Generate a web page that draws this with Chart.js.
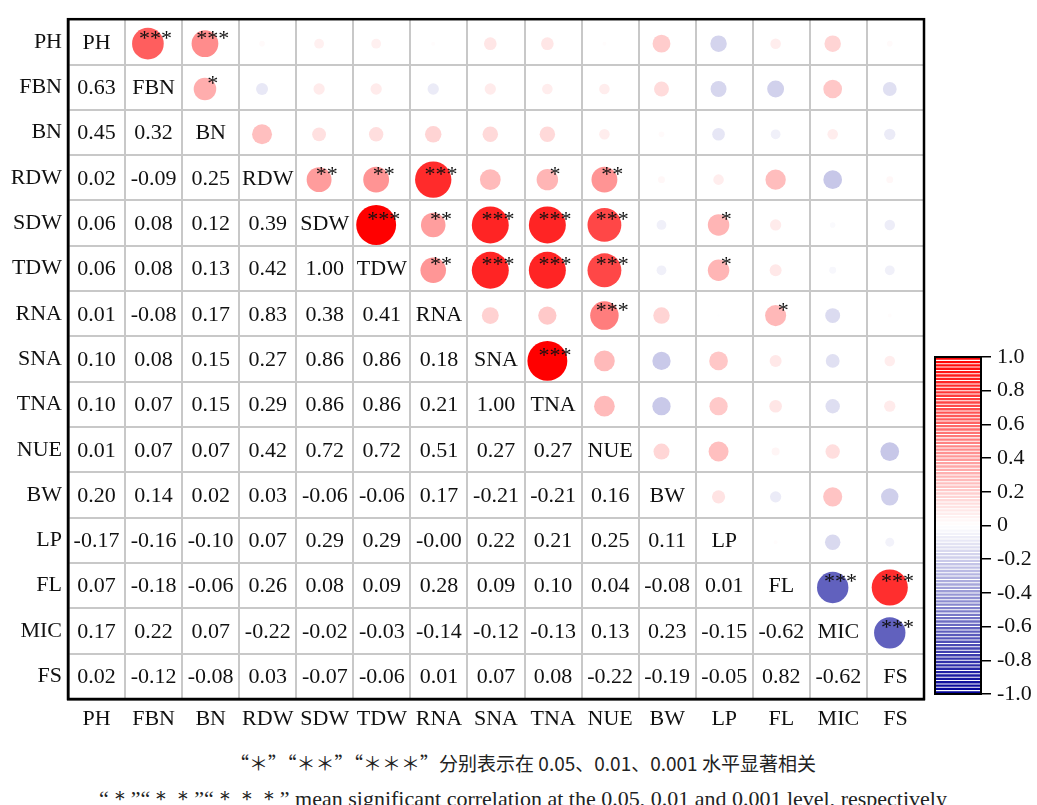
<!DOCTYPE html>
<html>
<head>
<meta charset="utf-8">
<script src="https://cdn.jsdelivr.net/npm/chart.js@4.4.1/dist/chart.umd.min.js"></script>
<style>
  body { margin: 0; background: #fff; width: 1037px; height: 805px; overflow: hidden; position: relative; }
  #main { position: absolute; left: 0; top: 0; }
  #bar { position: absolute; left: 925px; top: 335px; }
  .note { position: absolute; left: 0; width: 1046px; text-align: center; color: #222; white-space: nowrap; }
</style>
</head>
<body>
<canvas id="main" width="930" height="740"></canvas>
<canvas id="bar" width="112" height="380"></canvas>
<div class="note" style="top:749px; font: 19px 'Noto Sans CJK SC';">“＊”“＊＊”“＊＊＊”分别表示在 0.05、0.01、0.001 水平显著相关</div>
<div class="note" style="top:784px; font: 22px 'Liberation Serif';">“＊”“＊＊”“＊＊＊” mean significant correlation at the 0.05, 0.01 and 0.001 level, respectively</div>
<script>
const names = ['PH', 'FBN', 'BN', 'RDW', 'SDW', 'TDW', 'RNA', 'SNA', 'TNA', 'NUE', 'BW', 'LP', 'FL', 'MIC', 'FS'];

// lower triangle, one row per trait (against the traits before it)
const rFBN = [0.63];
const rBN = [0.45, 0.32];
const rRDW = [0.02, -0.09, 0.25];
const rSDW = [0.06, 0.08, 0.12, 0.39];
const rTDW = [0.06, 0.08, 0.13, 0.42, 1.00];
const rRNA = [0.01, -0.08, 0.17, 0.83, 0.38, 0.41];
const rSNA = [0.10, 0.08, 0.15, 0.27, 0.86, 0.86, 0.18];
const rTNA = [0.10, 0.07, 0.15, 0.29, 0.86, 0.86, 0.21, 1.00];
const rNUE = [0.01, 0.07, 0.07, 0.42, 0.72, 0.72, 0.51, 0.27, 0.27];
const rBW = [0.20, 0.14, 0.02, 0.03, -0.06, -0.06, 0.17, -0.21, -0.21, 0.16];
const rLP = [-0.17, -0.16, -0.10, 0.07, 0.29, 0.29, -0.004, 0.22, 0.21, 0.25, 0.11];
const rFL = [0.07, -0.18, -0.06, 0.26, 0.08, 0.09, 0.28, 0.09, 0.10, 0.04, -0.08, 0.01];
const rMIC = [0.17, 0.22, 0.07, -0.22, -0.02, -0.03, -0.14, -0.12, -0.13, 0.13, 0.23, -0.15, -0.62];
const rFS = [0.02, -0.12, -0.08, 0.03, -0.07, -0.06, 0.01, 0.07, 0.08, -0.22, -0.19, -0.05, 0.82, -0.62];
const lower = [[], rFBN, rBN, rRDW, rSDW, rTDW, rRNA, rSNA, rTNA, rNUE, rBW, rLP, rFL, rMIC, rFS];

// significance marks shown in the upper triangle: [row, column, mark]
const stars = [
  ['PH', 'FBN', '***'], ['PH', 'BN', '***'], ['FBN', 'BN', '*'],
  ['RDW', 'SDW', '**'], ['RDW', 'TDW', '**'], ['RDW', 'RNA', '***'], ['RDW', 'TNA', '*'], ['RDW', 'NUE', '**'],
  ['SDW', 'TDW', '***'], ['SDW', 'RNA', '**'], ['SDW', 'SNA', '***'], ['SDW', 'TNA', '***'], ['SDW', 'NUE', '***'], ['SDW', 'LP', '*'],
  ['TDW', 'RNA', '**'], ['TDW', 'SNA', '***'], ['TDW', 'TNA', '***'], ['TDW', 'NUE', '***'], ['TDW', 'LP', '*'],
  ['RNA', 'NUE', '***'], ['RNA', 'FL', '*'], ['SNA', 'TNA', '***'],
  ['FL', 'MIC', '***'], ['FL', 'FS', '***'], ['MIC', 'FS', '***']
];

const serif = '"Liberation Serif", "Times New Roman", serif';

const colorOf = (v) => {
  const t = Math.min(1, Math.abs(v));
  const g = Math.round(255 * (1 - t));
  if (v >= 0) return `rgb(255,${g},${g})`;
  return `rgb(${g},${g},${Math.round(255 - t * 105)})`;
};

const points = [];
names.forEach((n, i) => {
  for (let j = i + 1; j < names.length; j++) {
    points.push({ x: j - 0.1, y: i + 0.04, v: lower[j][i] });
  }
});

const cellText = {
  id: 'cellText',
  afterDatasetsDraw(chart) {
    const { ctx } = chart;
    const xv = chart.scales.xv, yv = chart.scales.yv;
    ctx.save();
    ctx.fillStyle = '#111';
    ctx.textAlign = 'center';
    ctx.textBaseline = 'middle';
    ctx.font = '22px ' + serif;
    names.forEach((n, i) => {
      for (let j = 0; j <= i; j++) {
        const label = i === j ? n : lower[i][j].toFixed(2);
        ctx.fillText(label, xv.getPixelForValue(j), yv.getPixelForValue(i) + 1);
      }
    });
    stars.forEach(([r, c, s]) => {
      ctx.fillText(s, xv.getPixelForValue(names.indexOf(c)) + 2, yv.getPixelForValue(names.indexOf(r)) - 3);
    });
    const a = chart.chartArea;
    ctx.strokeStyle = '#000';
    ctx.lineWidth = 2.5;
    ctx.strokeRect(a.left, a.top, a.right - a.left, a.bottom - a.top);
    ctx.restore();
  }
};

const gridStyle = { offset: true, color: '#c8c8c8', lineWidth: 2, drawTicks: false };

new Chart(document.getElementById('main'), {
  type: 'scatter',
  data: {
    datasets: [{
      data: points,
      xAxisID: 'xv',
      yAxisID: 'yv',
      pointBorderWidth: 0,
      pointStyle: 'circle',
      pointBackgroundColor: (c) => c.raw ? colorOf(c.raw.v) : '#fff',
      pointRadius: (c) => {
        const a = c.chart.chartArea;
        if (!a || !c.raw) return 0;
        const h = (a.bottom - a.top) / names.length;
        return 0.44 * h * Math.sqrt(Math.abs(c.raw.v));
      }
    }]
  },
  options: {
    responsive: false,
    animation: false,
    events: [],
    layout: { padding: { top: 12, right: 6, left: 0, bottom: 0 } },
    plugins: { legend: { display: false }, tooltip: { enabled: false } },
    scales: {
      x: {
        type: 'category', labels: names, offset: true, position: 'bottom',
        grid: gridStyle,
        border: { color: '#000', width: 2.5 },
        ticks: { font: { family: serif, size: 22 }, color: '#111', padding: 7, maxRotation: 0, autoSkip: false },
        afterFit: (s) => { s.height = 41; }
      },
      y: {
        type: 'category', labels: names, offset: true, position: 'left',
        grid: gridStyle,
        border: { color: '#000', width: 2.5 },
        ticks: { font: { family: serif, size: 22 }, color: '#111', padding: 6, autoSkip: false },
        afterFit: (s) => { s.width = 68; }
      },
      xv: { type: 'linear', axis: 'x', display: false, min: -0.5, max: 14.5 },
      yv: { type: 'linear', axis: 'y', display: false, min: -0.5, max: 14.5, reverse: true }
    }
  },
  plugins: [cellText]
});

// colour bar: thin stripes from -1 to 1
const levels = [];
for (let k = 0; k < 100; k++) levels.push(-0.99 + 0.02 * k);

const frame = {
  id: 'frame',
  afterDatasetsDraw(chart) {
    const a = chart.chartArea, ctx = chart.ctx;
    ctx.save();
    ctx.strokeStyle = '#000';
    ctx.lineWidth = 2;
    ctx.strokeRect(a.left, a.top, a.right - a.left, a.bottom - a.top);
    ctx.restore();
  }
};

new Chart(document.getElementById('bar'), {
  type: 'bar',
  data: {
    labels: [''],
    datasets: levels.map((v) => ({
      data: [[v - 0.005, v + 0.005]],
      backgroundColor: colorOf(v),
      borderWidth: 0,
      grouped: false,
      barPercentage: 1,
      categoryPercentage: 1
    }))
  },
  options: {
    responsive: false,
    animation: false,
    events: [],
    layout: { padding: { top: 22, left: 10, right: 0, bottom: 21 } },
    plugins: { legend: { display: false }, tooltip: { enabled: false } },
    scales: {
      x: { display: false },
      y: {
        position: 'right', min: -1, max: 1,
        grid: { drawOnChartArea: false, tickLength: 10, color: '#000', lineWidth: 1.5 },
        border: { color: '#000', width: 2 },
        ticks: {
          stepSize: 0.2, padding: 6, color: '#111',
          font: { family: serif, size: 22 },
          callback: (v) => Math.abs(v) < 1e-9 ? '0' : v.toFixed(1)
        },
        afterFit: (s) => { s.width = 56; }
      }
    }
  },
  plugins: [frame]
});
</script>
</body>
</html>
